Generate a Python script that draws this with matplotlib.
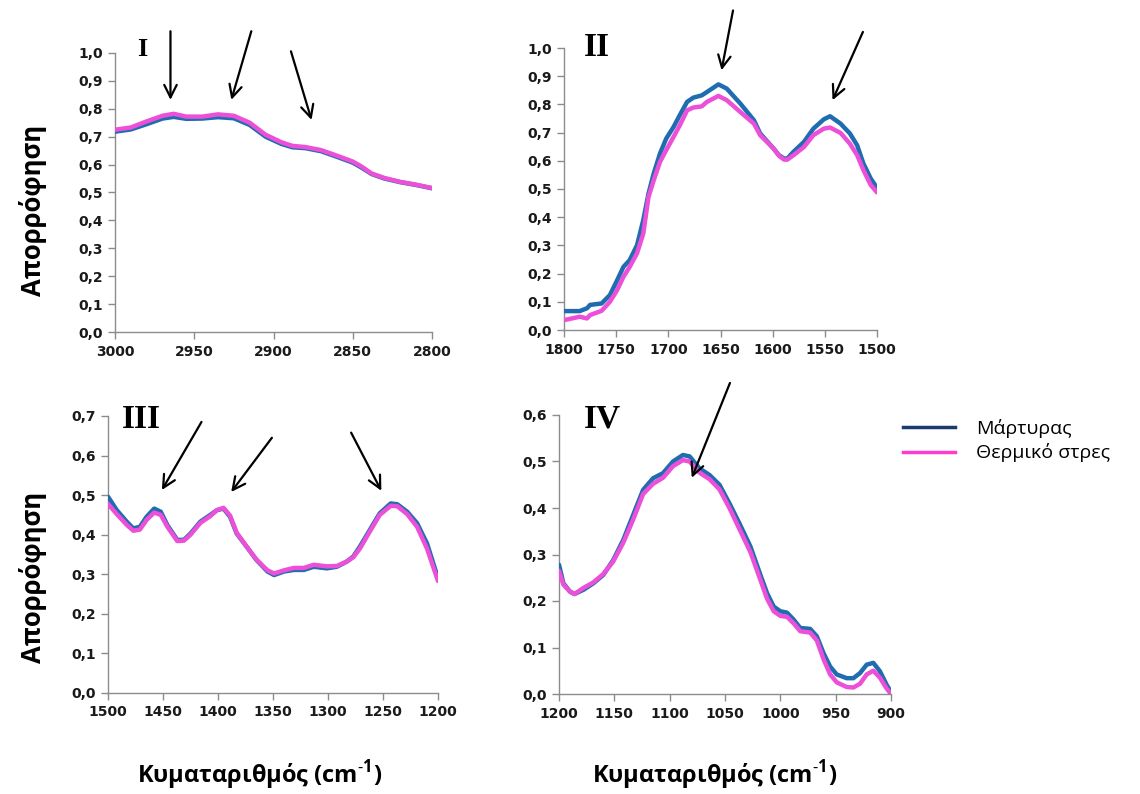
import matplotlib
matplotlib.use("Agg")
import matplotlib.pyplot as plt
from matplotlib.lines import Line2D
from matplotlib.ticker import FuncFormatter, MultipleLocator

# ---------------- data ----------------
# Panel I (3000-2800 cm-1)
wn1 = [3000, 2990, 2980, 2970, 2963, 2955, 2945, 2935, 2925, 2915, 2905, 2895,
       2888, 2880, 2870, 2860, 2850, 2845, 2838, 2830, 2820, 2810, 2800]
control1 = [0.718, 0.726, 0.745, 0.765, 0.771, 0.764, 0.765, 0.770, 0.766, 0.742, 0.700, 0.674,
            0.662, 0.659, 0.648, 0.628, 0.607, 0.591, 0.566, 0.550, 0.537, 0.527, 0.515]
stress1 = [0.725, 0.733, 0.755, 0.775, 0.782, 0.772, 0.772, 0.780, 0.775, 0.750, 0.707, 0.680,
           0.667, 0.663, 0.652, 0.632, 0.611, 0.595, 0.568, 0.552, 0.538, 0.528, 0.516]

# Panel II (1800-1500 cm-1)
wn2 = [1800, 1785, 1778, 1775, 1764, 1756, 1749, 1743, 1737, 1730, 1724, 1719, 1714, 1708,
       1702, 1695, 1689, 1682, 1676, 1668, 1663, 1652, 1644, 1631, 1618, 1612, 1599, 1594,
       1589, 1586, 1580, 1570, 1561, 1551, 1545, 1535, 1526, 1519, 1513, 1506, 1500]
control2 = [0.067, 0.067, 0.077, 0.089, 0.094, 0.124, 0.177, 0.224, 0.248, 0.301, 0.390, 0.484,
            0.555, 0.626, 0.679, 0.720, 0.762, 0.809, 0.824, 0.832, 0.844, 0.871, 0.856, 0.803,
            0.744, 0.697, 0.643, 0.620, 0.608, 0.608, 0.632, 0.667, 0.714, 0.747, 0.758, 0.732,
            0.697, 0.655, 0.590, 0.537, 0.504]
stress2 = [0.035, 0.047, 0.041, 0.053, 0.068, 0.100, 0.142, 0.189, 0.224, 0.272, 0.342, 0.472,
           0.531, 0.596, 0.638, 0.685, 0.726, 0.779, 0.789, 0.793, 0.809, 0.830, 0.815, 0.773,
           0.732, 0.691, 0.643, 0.618, 0.604, 0.604, 0.620, 0.649, 0.691, 0.714, 0.718, 0.699,
           0.661, 0.620, 0.567, 0.514, 0.488]

# Panel III (1500-1200 cm-1)
wn3 = [1500, 1492, 1483, 1477, 1471, 1465, 1458, 1452, 1446, 1437, 1431, 1425, 1416, 1407,
       1401, 1395, 1389, 1383, 1374, 1365, 1355, 1349, 1340, 1331, 1322, 1313, 1301, 1292,
       1283, 1277, 1271, 1262, 1253, 1243, 1237, 1228, 1219, 1210, 1200]
control3 = [0.496, 0.462, 0.433, 0.416, 0.420, 0.445, 0.466, 0.458, 0.424, 0.387, 0.387, 0.403,
            0.433, 0.450, 0.462, 0.466, 0.445, 0.403, 0.370, 0.336, 0.307, 0.298, 0.307, 0.311,
            0.311, 0.319, 0.315, 0.319, 0.332, 0.345, 0.370, 0.412, 0.454, 0.479, 0.477, 0.458,
            0.429, 0.378, 0.290]
stress3 = [0.478, 0.452, 0.425, 0.410, 0.413, 0.437, 0.456, 0.450, 0.420, 0.384, 0.385, 0.400,
           0.430, 0.447, 0.462, 0.468, 0.448, 0.405, 0.370, 0.337, 0.310, 0.302, 0.310, 0.316,
           0.316, 0.324, 0.320, 0.321, 0.332, 0.343, 0.365, 0.408, 0.450, 0.473, 0.472, 0.452,
           0.420, 0.365, 0.283]

# Panel IV (1200-900 cm-1)
wn4 = [1200, 1196, 1190, 1186, 1178, 1169, 1160, 1151, 1142, 1133, 1124, 1115, 1106, 1097,
       1088, 1082, 1073, 1064, 1055, 1046, 1037, 1027, 1018, 1012, 1006, 1000, 994, 988,
       982, 973, 967, 961, 955, 949, 940, 934, 928, 922, 916, 910, 904, 900]
control4 = [0.278, 0.238, 0.220, 0.215, 0.224, 0.238, 0.256, 0.288, 0.331, 0.385, 0.439, 0.464,
            0.475, 0.500, 0.514, 0.511, 0.485, 0.471, 0.450, 0.410, 0.367, 0.317, 0.256, 0.217,
            0.188, 0.178, 0.175, 0.160, 0.142, 0.140, 0.124, 0.088, 0.059, 0.042, 0.034, 0.034,
            0.045, 0.063, 0.067, 0.049, 0.020, 0.004]
stress4 = [0.265, 0.235, 0.220, 0.215, 0.228, 0.240, 0.258, 0.285, 0.325, 0.375, 0.430, 0.452,
           0.465, 0.490, 0.503, 0.500, 0.476, 0.462, 0.440, 0.400, 0.355, 0.305, 0.245, 0.205,
           0.178, 0.168, 0.166, 0.152, 0.135, 0.132, 0.115, 0.075, 0.042, 0.025, 0.015, 0.014,
           0.022, 0.042, 0.050, 0.035, 0.012, 0.000]

series_labels = ["Μάρτυρας", "Θερμικό στρες"]
panel_names = ["I", "II", "III", "IV"]
ylabel_text = "Απορρόφηση"
xlabel_text = "Κυματαριθμός (cm$^{\\mathregular{\u20101}}$)"

# arrows: (tail_x, tail_y, head_x, head_y) in data coords
arrows1 = [(2965, 1.078, 2965, 0.832), (2914, 1.078, 2926.6, 0.832), (2889, 1.006, 2876, 0.76)]
arrows2 = [(1638, 1.133, 1649, 0.921), (1513.5, 1.057, 1542.6, 0.815)]
arrows3 = [(1415, 0.685, 1451, 0.513), (1351, 0.645, 1388, 0.508), (1279, 0.658, 1251.5, 0.511)]
arrows4 = [(1045.5, 0.669, 1080, 0.465)]

# ---------------- style ----------------
BLUE = "#1f6db0"
PINK = "#ec4fd8"
LEG_BLUE = "#1b3a6e"
LEG_PINK = "#ff3cd0"
SPINE = "#8c8c8c"

fig = plt.figure(figsize=(11.4, 7.94), dpi=100)

def px_axes(l, t, r, b):
    W, H = 1140, 794
    return fig.add_axes([l / W, 1 - b / H, (r - l) / W, (b - t) / H])

panels = [
    dict(rect=(115, 53, 432, 332), wn=wn1, c=control1, s=stress1, xlim=(3000, 2800), xstep=50,
         ylim=(0, 1.0), ystep=0.1, arrows=arrows1, name_pos=(0.085, 1.014), name_size=19),
    dict(rect=(564, 48, 877, 330), wn=wn2, c=control2, s=stress2, xlim=(1800, 1500), xstep=50,
         ylim=(0, 1.0), ystep=0.1, arrows=arrows2, name_pos=(0.105, 1.002), name_size=24),
    dict(rect=(108, 416, 438, 693), wn=wn3, c=control3, s=stress3, xlim=(1500, 1200), xstep=50,
         ylim=(0, 0.7), ystep=0.1, arrows=arrows3, name_pos=(0.10, 0.986), name_size=24),
    dict(rect=(559, 415, 891, 694), wn=wn4, c=control4, s=stress4, xlim=(1200, 900), xstep=50,
         ylim=(0, 0.6), ystep=0.1, arrows=arrows4, name_pos=(0.13, 0.984), name_size=24),
]

fmt = FuncFormatter(lambda v, p: f"{v:.1f}".replace(".", ","))

for p, name in zip(panels, panel_names):
    ax = px_axes(*p["rect"])
    ax.plot(p["wn"], p["c"], color=BLUE, lw=3.2, solid_capstyle="round",
            solid_joinstyle="round", zorder=3)
    ax.plot(p["wn"], p["s"], color=PINK, lw=3.2, solid_capstyle="round",
            solid_joinstyle="round", zorder=4)
    ax.set_xlim(*p["xlim"])
    ax.set_ylim(*p["ylim"])
    ax.xaxis.set_major_locator(MultipleLocator(p["xstep"]))
    ax.yaxis.set_major_locator(MultipleLocator(p["ystep"]))
    ax.yaxis.set_major_formatter(fmt)
    for side in ("top", "right"):
        ax.spines[side].set_visible(False)
    for side in ("left", "bottom"):
        ax.spines[side].set_color(SPINE)
        ax.spines[side].set_linewidth(1.0)
    ax.tick_params(direction="out", length=5, width=1.0, color=SPINE,
                   labelsize=10, labelcolor="#1a1a1a")
    for lab in ax.get_xticklabels() + ax.get_yticklabels():
        lab.set_fontfamily("DejaVu Sans")
        lab.set_fontweight("bold")
    ax.tick_params(axis="x", pad=4)
    ax.text(p["name_pos"][0], p["name_pos"][1], name, transform=ax.transAxes,
            ha="center", va="center", fontsize=p["name_size"], fontweight="bold",
            family="Liberation Serif")
    for (tx, ty, hx, hy) in p["arrows"]:
        ax.annotate("", xy=(hx, hy), xytext=(tx, ty), annotation_clip=False,
                    arrowprops=dict(arrowstyle="->,head_length=0.9,head_width=0.45",
                                    color="black", lw=1.6, shrinkA=0, shrinkB=0),
                    zorder=6)

# y labels
for yc in (210, 577):
    fig.text(33 / 1140, 1 - yc / 794, ylabel_text, rotation=90, ha="center", va="center",
             fontsize=18.5, fontweight="bold", family="Open Sans")
# x labels
for xc in (260, 715):
    fig.text(xc / 1140, 1 - 775 / 794, xlabel_text, ha="center", va="center",
             fontsize=17, fontweight="bold", family="Open Sans")

# legend
handles = [Line2D([], [], color=LEG_BLUE, lw=2.5), Line2D([], [], color=LEG_PINK, lw=2.5)]
fig.legend(handles, series_labels, loc="upper left",
           bbox_to_anchor=(885 / 1140, 1 - 401 / 794), frameon=False,
           prop=dict(family="Open Sans", size=14), handlelength=2.7,
           handletextpad=1.1, labelspacing=0.3)

fig.savefig("out.png", dpi=100, facecolor="white")
